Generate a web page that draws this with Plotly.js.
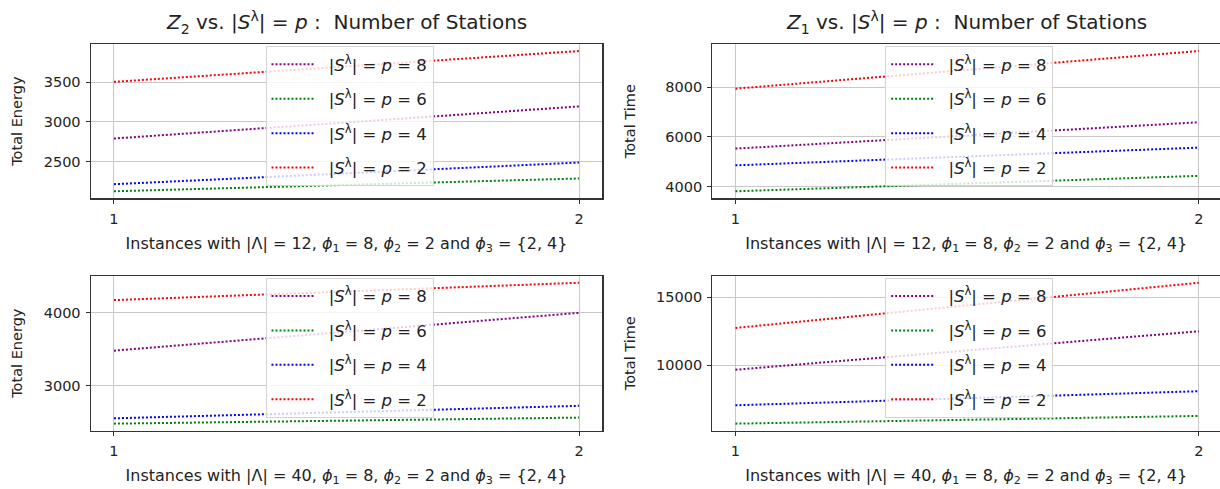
<!DOCTYPE html>
<html>
<head>
<meta charset="utf-8">
<script src="https://cdn.plot.ly/plotly-3.0.1.min.js"></script>
<style>html,body{margin:0;padding:0;background:#fff;}#chart{width:1220px;height:489px;}</style>
</head>
<body>
<div id="chart"></div>
<script>
// ---- data ----
const instances = [1, 2];
const seriesNames = ['|<i>S</i><sup>λ</sup>| = <i>p</i> = 8', '|<i>S</i><sup>λ</sup>| = <i>p</i> = 6', '|<i>S</i><sup>λ</sup>| = <i>p</i> = 4', '|<i>S</i><sup>λ</sup>| = <i>p</i> = 2'];
const seriesColors = ['purple', 'green', 'blue', 'red'];

// |Λ| = 12, Total Energy (Z2)
const e12_p8 = [2789, 3193];
const e12_p6 = [2125, 2286];
const e12_p4 = [2214, 2487];
const e12_p2 = [3502, 3890];
// |Λ| = 12, Total Time (Z1)
const t12_p8 = [5534, 6590];
const t12_p6 = [3823, 4442];
const t12_p4 = [4863, 5574];
const t12_p2 = [7936, 9446];
// |Λ| = 40, Total Energy (Z2)
const e40_p8 = [3477, 3995];
const e40_p6 = [2477, 2560];
const e40_p4 = [2550, 2721];
const e40_p2 = [4169, 4407];
// |Λ| = 40, Total Time (Z1)
const t40_p8 = [9659, 12500];
const t40_p6 = [5675, 6246];
const t40_p4 = [7033, 8071];
const t40_p2 = [12745, 16083];

const panelTitles = ['<i>Z</i><sub>2</sub> vs. |<i>S</i><sup>λ</sup>| = <i>p</i> :  Number of Stations',
                     '<i>Z</i><sub>1</sub> vs. |<i>S</i><sup>λ</sup>| = <i>p</i> :  Number of Stations'];
const xTitle12 = 'Instances with |Λ| = 12, <i>ϕ</i><sub>1</sub> = 8, <i>ϕ</i><sub>2</sub> = 2 and <i>ϕ</i><sub>3</sub> = {2, 4}';
const xTitle40 = 'Instances with |Λ| = 40, <i>ϕ</i><sub>1</sub> = 8, <i>ϕ</i><sub>2</sub> = 2 and <i>ϕ</i><sub>3</sub> = {2, 4}';
const yTitles = ['Total Energy', 'Total Time'];
const yDticks = [500, 2000, 1000, 5000];

// ---- build ----
const W = 1220, H = 489;
const FONT = 'DejaVu Sans, sans-serif';
const panels = [
  {sets: [e12_p8, e12_p6, e12_p4, e12_p2], xa: 'x',  ya: 'y',  lg: 'legend',  dt: yDticks[0], so: 17},
  {sets: [t12_p8, t12_p6, t12_p4, t12_p2], xa: 'x2', ya: 'y2', lg: 'legend2', dt: yDticks[1], so: 26},
  {sets: [e40_p8, e40_p6, e40_p4, e40_p2], xa: 'x3', ya: 'y3', lg: 'legend3', dt: yDticks[2], so: 17},
  {sets: [t40_p8, t40_p6, t40_p4, t40_p2], xa: 'x4', ya: 'y4', lg: 'legend4', dt: yDticks[3], so: 17}
];
const xDomL = [90.7 / W, 602.3 / W];
const xDomR = [712.3 / W, 1.0];
const yDomT = [(H - 198.3) / H, (H - 44) / H];
const yDomB = [(H - 430.7) / H, (H - 275.7) / H];
const doms = [[xDomL, yDomT], [xDomR, yDomT], [xDomL, yDomB], [xDomR, yDomB]];
const xRanges = [[0.95, 2.05], [0.95, 0.95 + (W - 712.3) / 463.3], [0.95, 2.05], [0.95, 0.95 + (W - 712.3) / 463.3]];

const traces = [];
const layout = {
  width: W, height: H,
  margin: {l: 0, r: 0, t: 0, b: 0},
  paper_bgcolor: '#fff', plot_bgcolor: '#fff',
  font: {family: FONT, size: 14, color: '#222'},
  showlegend: true,
  annotations: []
};

panels.forEach((p, i) => {
  p.sets.forEach((vals, k) => {
    traces.push({
      x: instances, y: vals, type: 'scatter', mode: 'lines',
      name: '\u2002' + seriesNames[k], xaxis: p.xa, yaxis: p.ya, legend: p.lg,
      legendgroup: p.lg + '_' + k,
      line: {color: seriesColors[k], width: 2, dash: '2px,2px'},
      hoverinfo: 'skip'
    });
  });
  const all = [].concat(...p.sets);
  const mn = Math.min(...all), mx = Math.max(...all), pad = 0.05 * (mx - mn);
  const sfx = i === 0 ? '' : String(i + 1);
  const common = {
    showline: true, mirror: true, linecolor: '#333', linewidth: 1.2,
    ticks: 'outside', ticklen: 4, tickcolor: '#333', tickwidth: 1,
    showgrid: true, gridcolor: '#c8c8c8', gridwidth: 1, zeroline: false,
    tickfont: {family: FONT, size: 14.5, color: '#222'}, automargin: false
  };
  layout['xaxis' + sfx] = Object.assign({}, common, {
    domain: doms[i][0], range: xRanges[i], tickvals: instances, ticktext: instances.map(String),
    anchor: 'y' + sfx, ticklabelstandoff: 3,
    title: {text: i < 2 ? xTitle12 : xTitle40, font: {family: FONT, size: 16, color: '#222'}, standoff: 11}
  });
  layout['yaxis' + sfx] = Object.assign({}, common, {
    domain: doms[i][1], range: [mn - pad, mx + pad], dtick: p.dt, tick0: 0, tickformat: 'd',
    anchor: 'x' + sfx, ticklabelstandoff: 2,
    title: {text: yTitles[i % 2], font: {family: FONT, size: 14.5, color: '#222'}, standoff: p.so}
  });
  const xd = doms[i][0], yd = doms[i][1];
  layout[p.lg] = {
    x: (xd[0] + xd[1]) / 2 + 3 / W, xanchor: 'center',
    y: yd[1] - 2 / H, yanchor: 'top',
    bgcolor: 'rgba(255,255,255,0.8)', bordercolor: '#d4d4d4', borderwidth: 1,
    font: {family: FONT, size: 16.5, color: '#222'},
    tracegroupgap: 10, traceorder: 'grouped', itemwidth: 44
  };
  if (i < 2) {
    layout.annotations.push({
      xref: 'paper', yref: 'paper', x: (xd[0] + xd[1]) / 2, y: (H - 22) / H,
      xanchor: 'center', yanchor: 'middle', showarrow: false,
      text: panelTitles[i], font: {family: FONT, size: 20, color: '#222'}
    });
  }
});

Plotly.newPlot('chart', traces, layout, {displayModeBar: false, staticPlot: true});
</script>
</body>
</html>
